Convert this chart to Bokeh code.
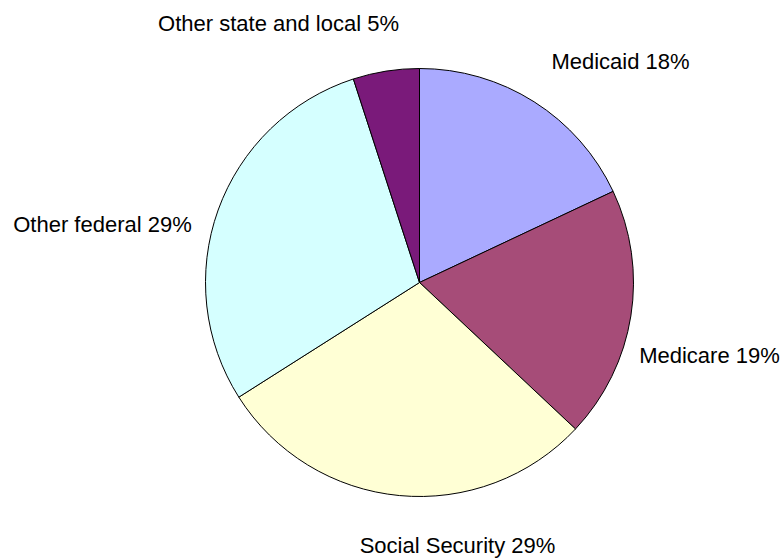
import math
from bokeh.plotting import figure
from bokeh.models import Range1d, ColumnDataSource
from bokeh.core.properties import value
from bokeh.embed import file_html
from bokeh.resources import INLINE

# ---- data ----
categories = ["Medicaid", "Medicare", "Social Security", "Other federal", "Other state and local"]
shares = [18, 19, 29, 29, 5]
colors = ["#AAAAFF", "#A64C78", "#FFFFD5", "#D5FFFF", "#7A1A7A"]

# ---- layout (page pixel coordinates, y measured downward) ----
W, H = 781, 560
cx_px, cy_px, r_px = 419, 282, 214
label_pos_px = [(620, 61), (709, 355), (457, 545), (102, 224), (278, 23)]

def Y(ypix):
    return H - ypix

total = sum(shares)
starts, ends = [], []
cum = 0.0
for s in shares:
    starts.append(math.pi / 2 - 2 * math.pi * cum / total)
    cum += s
    ends.append(math.pi / 2 - 2 * math.pi * cum / total)

src = ColumnDataSource(dict(
    x=[cx_px] * len(shares), y=[Y(cy_px)] * len(shares),
    start=starts, end=ends, color=colors,
))

labels = [f"{c} {s}%" for c, s in zip(categories, shares)]
lsrc = ColumnDataSource(dict(
    x=[p[0] for p in label_pos_px], y=[Y(p[1]) for p in label_pos_px], text=labels,
))

p = figure(width=W, height=H, output_backend="svg", toolbar_location=None,
           x_range=Range1d(0, W), y_range=Range1d(0, H),
           min_border=0)
p.axis.visible = False
p.grid.visible = False
p.outline_line_color = None
p.background_fill_color = "white"
p.border_fill_color = "white"

p.wedge(x="x", y="y", radius=r_px, start_angle="start", end_angle="end",
        direction="clock", fill_color="color", line_color="black", line_width=1,
        source=src)

p.text(x="x", y="y", text="text", source=lsrc, text_align="center",
       text_baseline="middle", text_font=value("Liberation Sans"),
       text_font_size="22px", text_color="black")

open("out.html", "w").write(file_html(p, INLINE))
